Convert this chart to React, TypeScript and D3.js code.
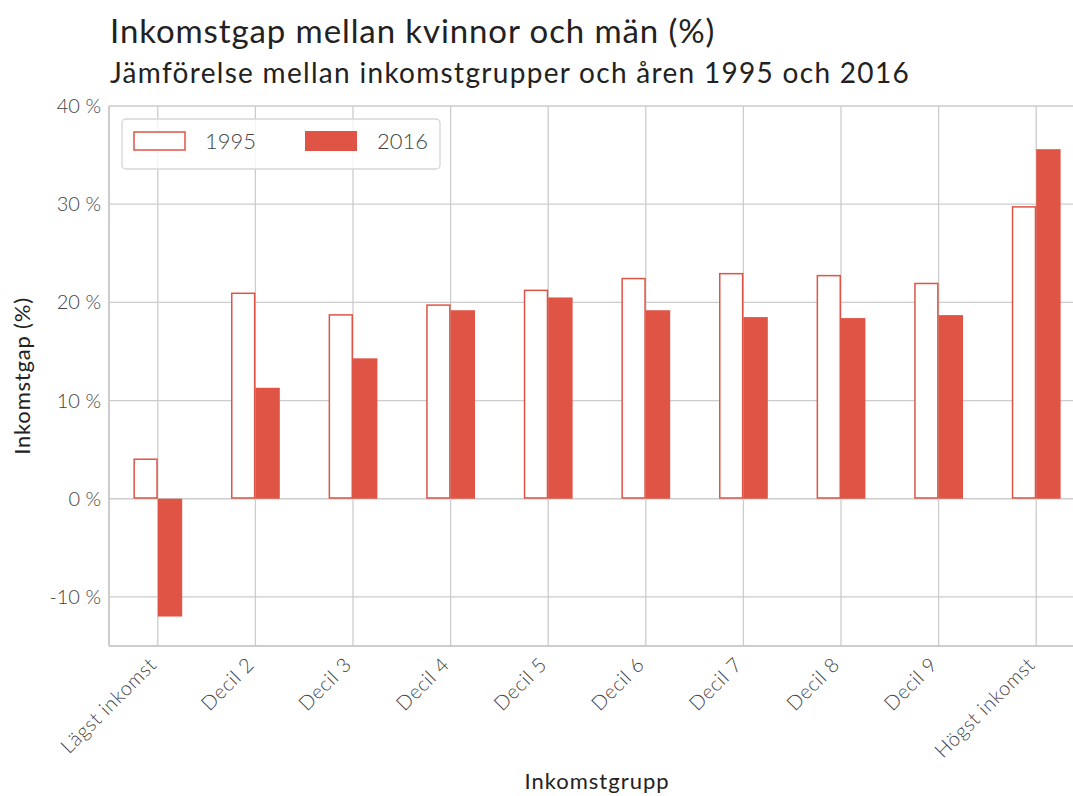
import { useMemo } from 'react'
import * as d3 from 'd3'

const categories = ['Lägst inkomst', 'Decil 2', 'Decil 3', 'Decil 4', 'Decil 5', 'Decil 6', 'Decil 7', 'Decil 8', 'Decil 9', 'Högst inkomst']
const values1995 = [4.1, 21.0, 18.8, 19.8, 21.3, 22.5, 23.0, 22.8, 22.0, 29.8]
const values2016 = [-12.0, 11.3, 14.3, 19.2, 20.5, 19.2, 18.5, 18.4, 18.7, 35.6]
const yTicks = [-10, 0, 10, 20, 30, 40]
const seriesNames = ['1995', '2016']

const RED = '#df5445'
const GRID = '#cccccc'
const FONT = 'Lato, "Open Sans", sans-serif'

export default function App() {
  const width = 1073
  const height = 796
  const margin = { top: 106, left: 109, bottom: 646 }

  const x = useMemo(() => d3.scaleLinear().domain([-0.5, 9.5]).range([margin.left, 1085]), [])
  const y = useMemo(() => d3.scaleLinear().domain([-15, 40]).range([margin.bottom, margin.top]), [])
  const bw = x(0.25) - x(0)

  return (
    <svg width={width} height={height} style={{ position: 'absolute', left: 0, top: 0, background: '#fff' }} fontFamily={FONT}>
      <rect x={0} y={0} width={width} height={height} fill="#fff" />
      {/* title */}
      <text x={110} y={43} fontSize={33} letterSpacing={0.9} fill="#222" fontWeight={400}>Inkomstgap mellan kvinnor och män (%)</text>
      <text x={110} y={83} fontSize={28} letterSpacing={1.3} fill="#222" fontWeight={400}>Jämförelse mellan inkomstgrupper och åren 1995 och 2016</text>

      {/* grid */}
      {yTicks.map(t => (
        <line key={'gy' + t} x1={margin.left} x2={width} y1={y(t)} y2={y(t)} stroke={GRID} strokeWidth={1.3} />
      ))}
      {categories.map((c, i) => (
        <line key={'gx' + c} x1={x(i)} x2={x(i)} y1={margin.top} y2={margin.bottom} stroke={GRID} strokeWidth={1.3} />
      ))}

      {/* bars */}
      {values1995.map((v, i) => (
        <rect key={'a' + i} x={x(i) - bw + 0.75} y={Math.min(y(v), y(0)) + 0.75} width={bw - 1.5}
          height={Math.abs(y(v) - y(0)) - 1.5} fill="#fff" stroke={RED} strokeWidth={1.5} />
      ))}
      {values2016.map((v, i) => (
        <rect key={'b' + i} x={x(i)} y={Math.min(y(v), y(0))} width={bw}
          height={Math.abs(y(v) - y(0))} fill={RED} />
      ))}

      {/* spines */}
      <line x1={margin.left} x2={margin.left} y1={margin.top} y2={margin.bottom} stroke={GRID} strokeWidth={2} />
      <line x1={margin.left} x2={width} y1={margin.bottom} y2={margin.bottom} stroke={GRID} strokeWidth={2} />

      {/* y ticks */}
      {yTicks.map(t => (
        <text key={'ty' + t} x={101} y={y(t)} dy="0.35em" textAnchor="end" fontSize={20} fontWeight={300} fill="#444">
          {`${t} %`}
        </text>
      ))}

      {/* x ticks */}
      {categories.map((c, i) => (
        <text key={'tx' + c} transform={`translate(${x(i) - 5},${margin.bottom + 15}) rotate(-45)`}
          textAnchor="end" dy="0.35em" fontSize={20} letterSpacing={0.6} fontWeight={300} fill="#444">{c}</text>
      ))}

      {/* axis labels */}
      <text transform={`translate(30,${(margin.top + margin.bottom) / 2}) rotate(-90)`} textAnchor="middle"
        fontSize={22} letterSpacing={0.8} fill="#222">Inkomstgap (%)</text>
      <text x={597} y={789} textAnchor="middle" fontSize={22} letterSpacing={1} fill="#222">Inkomstgrupp</text>

      {/* legend */}
      <rect x={122} y={119} width={318} height={50} rx={4} fill="#fff" fillOpacity={0.8} stroke="#d6d6d6" strokeWidth={1.3} />
      <rect x={134} y={132} width={51} height={18} fill="#fff" stroke={RED} strokeWidth={1.5} />
      <text x={205} y={141} dy="0.35em" fontSize={22} fontWeight={300} fill="#444">{seriesNames[0]}</text>
      <rect x={305} y={131} width={52} height={20} fill={RED} />
      <text x={377} y={141} dy="0.35em" fontSize={22} fontWeight={300} fill="#444">{seriesNames[1]}</text>
    </svg>
  )
}
